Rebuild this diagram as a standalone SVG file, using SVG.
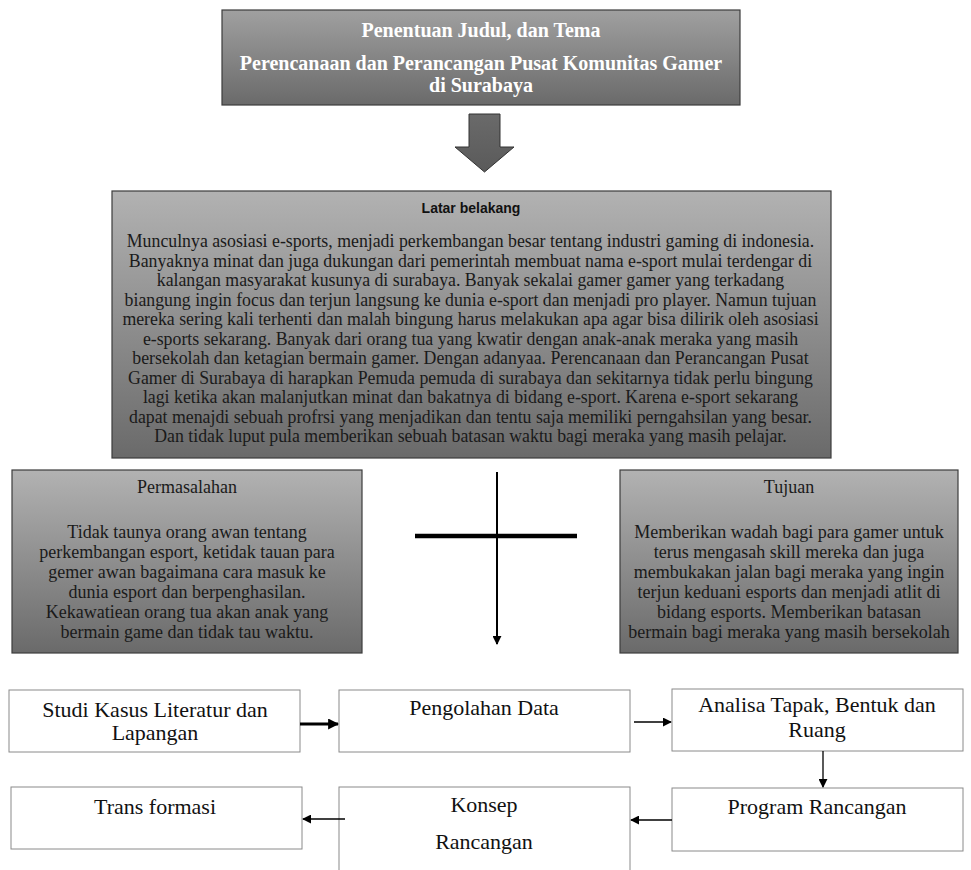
<svg xmlns="http://www.w3.org/2000/svg" width="971" height="870" viewBox="0 0 971 870">
<style>
.gbox{stroke:#3c3c3c;stroke-width:1.2}
.wbox{fill:#fff;stroke:#8a8a8a;stroke-width:1}
.ttl{font-family:"Liberation Serif",serif;font-weight:bold;font-size:20px;fill:#fff;text-anchor:middle}
.body{font-family:"Liberation Serif",serif;font-size:17.8px;fill:#1a1a1a;text-anchor:middle}
.sbody{font-family:"Liberation Serif",serif;font-size:18px;fill:#1a1a1a;text-anchor:middle}
.shead{font-family:"Liberation Serif",serif;font-size:18px;fill:#1a1a1a;text-anchor:middle}
.lhead{font-family:"Liberation Sans",Arial,sans-serif;font-weight:bold;font-size:14px;fill:#111;text-anchor:middle}
.btxt{font-family:"Liberation Serif",serif;font-size:22px;fill:#111;text-anchor:middle}
.con{stroke:#000;fill:none}
</style>
<defs>
<linearGradient id="gTop" x1="0" y1="0" x2="0" y2="1">
<stop offset="0" stop-color="#a0a0a0"/>
<stop offset="1" stop-color="#6a6a6a"/>
</linearGradient>
<linearGradient id="gMid" x1="0" y1="0" x2="0" y2="1">
<stop offset="0" stop-color="#b2b2b2"/>
<stop offset="1" stop-color="#6a6a6a"/>
</linearGradient>
<linearGradient id="gArrow" x1="0" y1="0" x2="0" y2="1">
<stop offset="0" stop-color="#6a6a6a"/>
<stop offset="1" stop-color="#5a5a5a"/>
</linearGradient>
<marker id="ah" viewBox="0 0 10 10" refX="9" refY="5" markerWidth="9" markerHeight="9" markerUnits="userSpaceOnUse" orient="auto">
<path d="M0,0 L10,5 L0,10 z" fill="#000"/>
</marker>
<marker id="ahb" viewBox="0 0 10 10" refX="9" refY="5" markerWidth="11" markerHeight="11" markerUnits="userSpaceOnUse" orient="auto">
<path d="M0,0 L10,5 L0,10 z" fill="#000"/>
</marker>
</defs>
<rect width="971" height="870" fill="#fff"/>

<g id="judul">
<rect class="gbox" x="222" y="10" width="518" height="95" fill="url(#gTop)"/>
<text class="ttl" x="481" y="37">Penentuan Judul, dan Tema</text>
<text class="ttl" x="481" y="70">Perencanaan dan Perancangan Pusat Komunitas Gamer</text>
<text class="ttl" x="481" y="92">di Surabaya</text>
</g>

<g id="blockarrow">
<polygon points="469,114 500,114 500,147 514,147 484.5,172 455,147 469,147" fill="url(#gArrow)" stroke="#333" stroke-width="1"/>
</g>

<g id="latar">
<rect class="gbox" x="112" y="191" width="719" height="267" fill="url(#gMid)"/>
<text class="lhead" x="471" y="213">Latar belakang</text>
<text class="body" x="470.5" y="247">Munculnya asosiasi e-sports, menjadi perkembangan besar tentang industri gaming di indonesia.</text>
<text class="body" x="470.5" y="266.5">Banyaknya minat dan juga dukungan dari  pemerintah membuat nama e-sport mulai terdengar di</text>
<text class="body" x="470.5" y="286">kalangan masyarakat kusunya di surabaya. Banyak sekalai gamer gamer yang terkadang</text>
<text class="body" x="470.5" y="305.5">biangung ingin focus dan terjun langsung ke dunia e-sport dan menjadi pro player. Namun tujuan</text>
<text class="body" x="470.5" y="325">mereka sering kali terhenti dan malah bingung harus melakukan apa agar bisa dilirik oleh asosiasi</text>
<text class="body" x="470.5" y="344.5">e-sports sekarang. Banyak dari orang tua yang kwatir dengan anak-anak meraka yang masih</text>
<text class="body" x="470.5" y="364">bersekolah dan ketagian bermain gamer. Dengan adanyaa. Perencanaan dan Perancangan Pusat</text>
<text class="body" x="470.5" y="383.5">Gamer di Surabaya di harapkan Pemuda pemuda di surabaya dan sekitarnya tidak perlu bingung</text>
<text class="body" x="470.5" y="403">lagi ketika akan malanjutkan minat dan bakatnya di bidang e-sport. Karena e-sport sekarang</text>
<text class="body" x="470.5" y="422.5">dapat menajdi sebuah profrsi yang menjadikan dan tentu saja memiliki perngahsilan yang besar.</text>
<text class="body" x="470.5" y="442">Dan tidak luput pula memberikan sebuah batasan waktu bagi meraka yang masih pelajar.</text>
</g>

<g id="permasalahan">
<rect class="gbox" x="12" y="470" width="350" height="183" fill="url(#gMid)"/>
<text class="shead" x="187" y="493">Permasalahan</text>
<text class="sbody" x="187" y="538">Tidak taunya orang awan tentang</text>
<text class="sbody" x="187" y="558">perkembangan esport, ketidak tauan para</text>
<text class="sbody" x="187" y="578">gemer awan bagaimana cara masuk ke</text>
<text class="sbody" x="187" y="598">dunia esport dan berpenghasilan.</text>
<text class="sbody" x="187" y="618">Kekawatiean orang tua akan anak yang</text>
<text class="sbody" x="187" y="638">bermain game dan tidak tau waktu.</text>
</g>

<g id="tujuan">
<rect class="gbox" x="620" y="470" width="338" height="183" fill="url(#gMid)"/>
<text class="shead" x="789" y="493">Tujuan</text>
<text class="sbody" x="789" y="538">Memberikan wadah bagi para gamer untuk</text>
<text class="sbody" x="789" y="558">terus mengasah skill mereka dan juga</text>
<text class="sbody" x="789" y="578">membukakan jalan bagi meraka yang ingin</text>
<text class="sbody" x="789" y="598">terjun keduani esports dan menjadi atlit di</text>
<text class="sbody" x="789" y="618">bidang esports. Memberikan batasan</text>
<text class="sbody" x="789" y="638">bermain bagi meraka yang masih bersekolah</text>
</g>

<g id="studi">
<rect class="wbox" x="9" y="690" width="291" height="62"/>
<text class="btxt" x="155" y="717">Studi Kasus Literatur dan</text>
<text class="btxt" x="155" y="740">Lapangan</text>
</g>
<g id="pengolahan">
<rect class="wbox" x="339" y="690" width="291" height="62"/>
<text class="btxt" x="484" y="715">Pengolahan Data</text>
</g>
<g id="analisa">
<rect class="wbox" x="672" y="689" width="291" height="62"/>
<text class="btxt" x="817" y="712">Analisa Tapak, Bentuk dan</text>
<text class="btxt" x="817" y="737">Ruang</text>
</g>
<g id="program">
<rect class="wbox" x="672" y="788" width="291" height="63"/>
<text class="btxt" x="817" y="814">Program Rancangan</text>
</g>
<g id="konsep">
<rect class="wbox" x="339" y="787" width="291" height="100"/>
<text class="btxt" x="484" y="812">Konsep</text>
<text class="btxt" x="484" y="849">Rancangan</text>
</g>
<g id="transformasi">
<rect class="wbox" x="11" y="787" width="291" height="62"/>
<text class="btxt" x="155" y="814">Trans formasi</text>
</g>

<g id="connectors">
<line class="con" x1="497" y1="472" x2="497" y2="644" stroke-width="2" marker-end="url(#ah)"/>
<line class="con" x1="415" y1="536" x2="577" y2="536" stroke-width="4.5"/>
<line class="con" x1="300" y1="724" x2="338" y2="724" stroke-width="3" marker-end="url(#ahb)"/>
<line class="con" x1="634" y1="722" x2="671" y2="722" stroke-width="1.3" marker-end="url(#ah)"/>
<line class="con" x1="823" y1="751" x2="823" y2="787" stroke-width="1.3" marker-end="url(#ah)"/>
<line class="con" x1="672" y1="820" x2="631" y2="820" stroke-width="1.3" marker-end="url(#ah)"/>
<line class="con" x1="345" y1="819" x2="303" y2="819" stroke-width="1.3" marker-end="url(#ah)"/>
</g>
</svg>
